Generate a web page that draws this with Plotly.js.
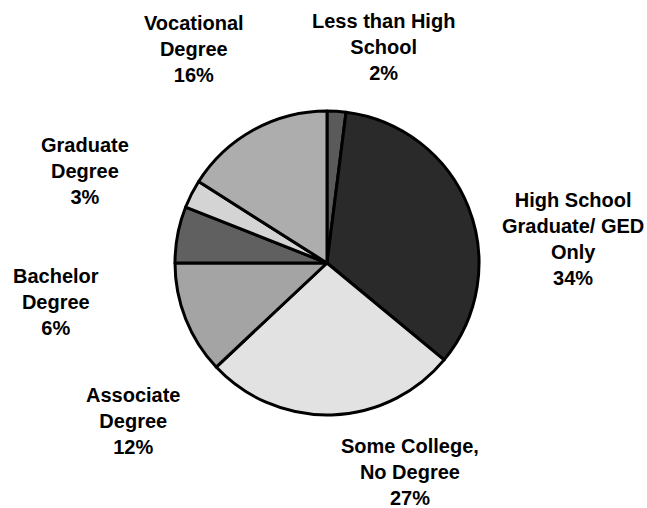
<!DOCTYPE html>
<html>
<head>
<meta charset="utf-8">
<script src="https://cdn.plot.ly/plotly-3.0.1.min.js"></script>
<style>html,body{margin:0;padding:0;background:#fff;}#chart{width:647px;height:508px;}</style>
</head>
<body>
<div id="chart"></div>
<script>
const categories = ["Less than High School", "High School Graduate/ GED Only", "Some College, No Degree", "Associate Degree", "Bachelor Degree", "Graduate Degree", "Vocational Degree"];
const percentValues = [2, 34, 27, 12, 6, 3, 16];
const labelLines = [
  ["Less than High", "School"],
  ["High School", "Graduate/ GED", "Only"],
  ["Some College,", "No Degree"],
  ["Associate", "Degree"],
  ["Bachelor", "Degree"],
  ["Graduate", "Degree"],
  ["Vocational", "Degree"]
];
const sliceColors = ["#5a5a5a", "#2a2a2a", "#e2e2e2", "#a4a4a4", "#606060", "#d4d4d4", "#adadad"];

// label placement (pixels in the 647x508 page)
const labelPos = [
  [383, 8], [573, 187], [410, 433], [133, 382], [56, 263], [85, 132], [194, 10]
];

const W = 647, H = 508;
const cx = 327, cy = 263, r = 152;

const annotations = categories.map((c, i) => ({
  xref: "paper", yref: "paper",
  x: labelPos[i][0] / W, y: 1 - labelPos[i][1] / H,
  xanchor: "center", yanchor: "top",
  showarrow: false,
  align: "center",
  text: labelLines[i].concat([percentValues[i] + "%"]).join("<br>"),
  font: {family: "Liberation Sans, Arial, sans-serif", size: 20, color: "#000", weight: "bold"}
}));

const data = [{
  type: "pie",
  labels: categories,
  values: percentValues,
  sort: false,
  direction: "clockwise",
  rotation: 0,
  textinfo: "none",
  hoverinfo: "label+percent",
  marker: {colors: sliceColors, line: {color: "#000", width: 3}},
  domain: {x: [(cx - r) / W, (cx + r) / W], y: [(H - cy - r) / H, (H - cy + r) / H]}
}];

const layout = {
  width: W, height: H,
  margin: {l: 0, r: 0, t: 0, b: 0},
  paper_bgcolor: "#fff",
  showlegend: false,
  annotations: annotations
};

Plotly.newPlot("chart", data, layout, {displayModeBar: false, staticPlot: true});
</script>
</body>
</html>
